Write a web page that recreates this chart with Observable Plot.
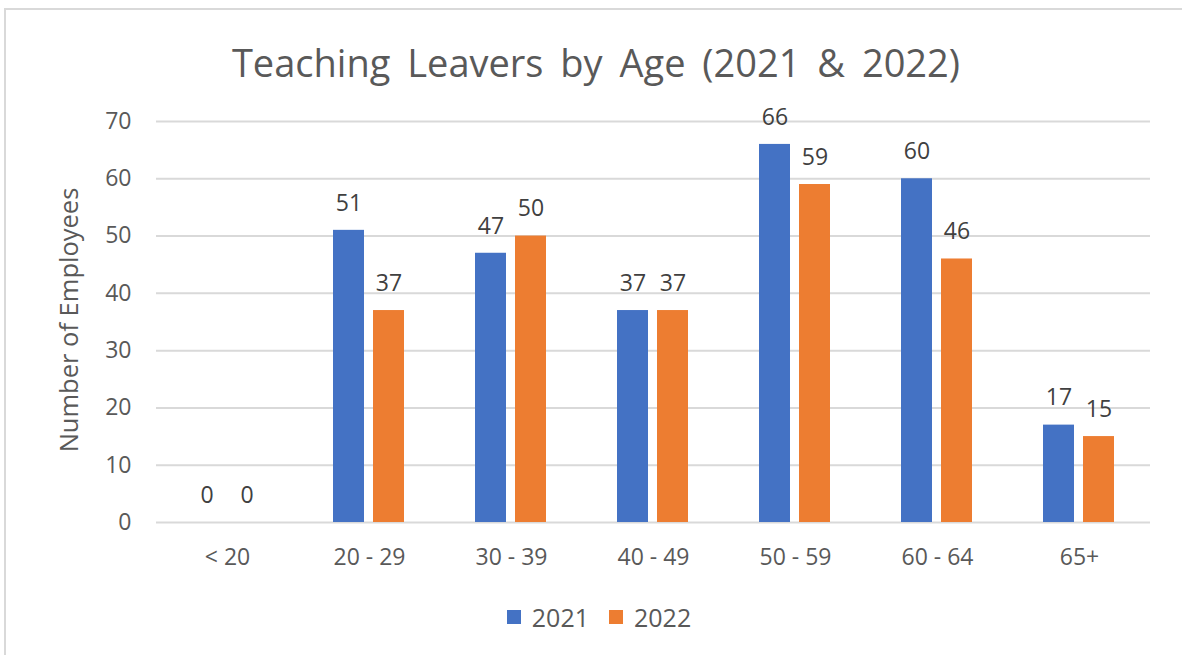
<!DOCTYPE html>
<html>
<head>
<meta charset="utf-8">
<script src="https://cdn.jsdelivr.net/npm/d3@7"></script>
<script src="https://cdn.jsdelivr.net/npm/@observablehq/plot@0.6"></script>
<style>
  html, body { margin: 0; padding: 0; background: #fff; width: 1182px; height: 655px; overflow: hidden; }
  body { position: relative; font-family: "Open Sans", sans-serif; color: #595959; }
  #frame { position: absolute; left: 4px; top: 8px; width: 1200px; height: 700px; border: 2px solid #d9d9d9; box-sizing: border-box; }
  #title { position: absolute; left: 0; width: 1192px; top: 40px; text-align: center; font-size: 38px; line-height: 44px; color: #595959; word-spacing: 7px; }
  #ylabel { position: absolute; left: 68px; top: 320px; transform: translate(-50%, -50%) rotate(-90deg); white-space: nowrap; font-size: 25.5px; line-height: 30px; color: #595959; }
  #chart { position: absolute; left: 0; top: 100px; }
  #legend { position: absolute; left: 0; width: 1198px; top: 600px; display: flex; justify-content: center; align-items: center; font-size: 25px; line-height: 34px; color: #595959; }
  .item { display: flex; align-items: center; margin: 0 10px; }
  .sw { width: 14px; height: 14px; margin-right: 11px; }
</style>
</head>
<body>
<div id="frame"></div>
<div id="title">Teaching Leavers by Age (2021 &amp; 2022)</div>
<div id="ylabel">Number of Employees</div>
<div id="chart"></div>
<div id="legend"></div>
<script>
const ageGroups = ["< 20", "20 - 29", "30 - 39", "40 - 49", "50 - 59", "60 - 64", "65+"];
const years = ["2021", "2022"];
const values2021 = [0, 51, 47, 37, 66, 60, 17];
const values2022 = [0, 37, 50, 37, 59, 46, 15];
const yTicks = [0, 10, 20, 30, 40, 50, 60, 70];
const colors = ["#4472C4", "#ED7D31"];

const data = [];
ageGroups.forEach((a, i) => {
  data.push({age: a, year: years[0], value: values2021[i]});
  data.push({age: a, year: years[1], value: values2022[i]});
});

const chart = Plot.plot({
  width: 1182,
  height: 480,
  marginTop: 21,
  marginBottom: 58,
  marginLeft: 154,
  marginRight: 31,
  style: {fontFamily: "Open Sans, sans-serif", fontSize: "23px", color: "#595959", background: "transparent"},
  fx: {domain: ageGroups, paddingInner: 0, paddingOuter: 0, axis: "bottom", tickSize: 0, tickPadding: 26, label: null},
  x: {domain: years, paddingInner: 0.22, paddingOuter: 0.847, axis: null},
  y: {domain: [0, 70], ticks: yTicks, tickSize: 0, tickPadding: 25, label: null},
  color: {domain: years, range: colors},
  marks: [
    Plot.ruleY(yTicks, {stroke: "#d9d9d9", strokeWidth: 2}),
    Plot.barY(data, {fx: "age", x: "year", y: "value", fill: "year"}),
    Plot.text(data, {fx: "age", x: "year", y: "value", text: d => String(d.value), dy: -27, lineAnchor: "middle", fill: "#404040", fontSize: 23})
  ]
});
document.getElementById("chart").appendChild(chart);

const legend = document.getElementById("legend");
years.forEach((y, i) => {
  const item = document.createElement("div");
  item.className = "item";
  const sw = document.createElement("div");
  sw.className = "sw";
  sw.style.background = colors[i];
  item.appendChild(sw);
  const t = document.createElement("span");
  t.textContent = y;
  item.appendChild(t);
  legend.appendChild(item);
});
</script>
</body>
</html>
